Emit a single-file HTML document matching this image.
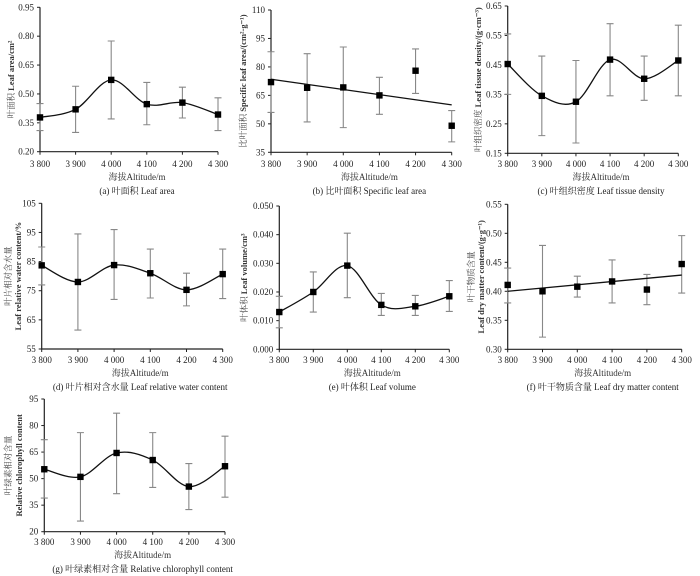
<!DOCTYPE html>
<html><head><meta charset="utf-8"><style>
html,body{margin:0;padding:0;background:#fff;}
svg{display:block;font-family:"Liberation Serif","Noto Serif CJK SC","Noto Sans CJK SC",serif;}
</style></head><body>
<svg id="fig" width="700" height="576" viewBox="0 0 700 576" xmlns="http://www.w3.org/2000/svg">
<rect width="700" height="576" fill="#fff"/>
</svg>
<script>
const categories = ["3 800","3 900","4 000","4 100","4 200","4 300"];

const aValues = [0.378,0.42,0.573,0.447,0.455,0.393];
const aHi = [0.45,0.54,0.775,0.56,0.535,0.48];
const aLo = [0.31,0.30,0.37,0.34,0.375,0.31];
const aTicks = ["0.20","0.35","0.50","0.65","0.80","0.95"];

const bValues = [72,69,69.2,65,78,49];
const bHi = [88,87,90.5,74.5,89.5,57];
const bLo = [56,51,48,55,66,40.5];
const bTrend = [73.5,60];
const bTicks = ["35","50","65","80","95","110"];

const cValues = [0.453,0.345,0.325,0.468,0.403,0.465];
const cHi = [0.555,0.48,0.465,0.59,0.48,0.585];
const cLo = [0.35,0.21,0.185,0.345,0.33,0.345];
const cTicks = ["0.15","0.25","0.35","0.45","0.55","0.65"];

const dValues = [83.7,78,83.8,81,75.3,80.7];
const dHi = [90,94.5,96,89.3,81,89.3];
const dLo = [77,61.5,72,72.5,69.8,72.3];
const dTicks = ["55","65","75","85","95","105"];

const eValues = [0.013,0.020,0.0292,0.0155,0.015,0.0185];
const eHi = [0.0185,0.027,0.0405,0.0195,0.0188,0.024];
const eLo = [0.0075,0.013,0.018,0.0118,0.0118,0.0132];
const eTicks = ["0.000","0.010","0.020","0.030","0.040","0.050"];

const fValues = [0.411,0.400,0.408,0.417,0.403,0.447];
const fHi = [0.44,0.479,0.426,0.454,0.429,0.496];
const fLo = [0.38,0.321,0.39,0.38,0.377,0.397];
const fTrend = [0.400,0.428];
const fTicks = ["0.30","0.35","0.40","0.45","0.50","0.55"];

const gValues = [55.3,51,64.5,60.5,45.5,57];
const gHi = [72,76,87,76,58.5,74];
const gLo = [39,26,41.5,45,32.5,39.5];
const gTicks = ["20","35","50","65","80","95"];

const NS="http://www.w3.org/2000/svg";
const svg=document.getElementById('fig');
function mk(tag,attrs,parent){const e=document.createElementNS(NS,tag);for(const k in attrs)e.setAttribute(k,attrs[k]);(parent||svg).appendChild(e);return e;}

function panel(o){
  const g=mk('g',{});
  
  
  const t0=parseFloat(o.ticks[0]), t1=parseFloat(o.ticks[o.ticks.length-1]);
  const y=v=>o.bottom-(v-t0)/(t1-t0)*(o.bottom-o.top);
  const x=i=>o.left+i*(o.right-o.left)/(categories.length-1);
  // axes
  const ax=mk('path',{d:`M${o.left},${o.top}V${o.bottom}H${o.right}`,stroke:'#222',fill:'none','stroke-width':1.2},g);
  
  
  o.ticks.forEach(t=>{
    const yy=y(parseFloat(t));
    mk('line',{x1:o.left-3,x2:o.left,y1:yy,y2:yy,stroke:'#222','stroke-width':1},g);
    const tl=mk('text',{x:o.left-6,y:yy+3,'font-size':9,'text-anchor':'end',fill:'#222'},g);
    tl.textContent=t;
    
    
  });
  categories.forEach((c,i)=>{
    mk('line',{x1:x(i),x2:x(i),y1:o.bottom,y2:o.bottom+3,stroke:'#222','stroke-width':1},g);
    const tl=mk('text',{x:x(i),y:o.tickY,'font-size':9,'text-anchor':'middle',fill:'#222'},g);
    tl.textContent=c;
    
    
  });
  // error bars
  o.values.forEach((v,i)=>{
    const eb=mk('path',{d:`M${x(i)},${y(o.hi[i])}V${y(o.lo[i])}M${x(i)-3.5},${y(o.hi[i])}h7M${x(i)-3.5},${y(o.lo[i])}h7`,stroke:'#888','stroke-width':1.1,fill:'none'},g);
    
    
  });
  // line
  let d;
  if(o.trend){
    d=`M${x(0)},${y(o.trend[0])}L${x(categories.length-1)},${y(o.trend[1])}`;
  } else {
    const p=o.values.map((v,i)=>[x(i),y(v)]);
    d=`M${p[0][0]},${p[0][1]}`;
    for(let i=0;i<p.length-1;i++){
      const p0=p[i-1]||p[i],p1=p[i],p2=p[i+1],p3=p[i+2]||p2;
      const c1=[p1[0]+(p2[0]-p0[0])/6,p1[1]+(p2[1]-p0[1])/6];
      const c2=[p2[0]-(p3[0]-p1[0])/6,p2[1]-(p3[1]-p1[1])/6];
      d+=`C${c1[0]},${c1[1]} ${c2[0]},${c2[1]} ${p2[0]},${p2[1]}`;
    }
  }
  const ln=mk('path',{d:d,stroke:'#111','stroke-width':1.3,fill:'none'},g);
  
  
  o.values.forEach((v,i)=>{
    const m=mk('rect',{x:x(i)-3.2,y:y(v)-3.2,width:6.4,height:6.4,fill:'#000'},g);
    
    
  });
  // y title
  o.ylab.forEach((l,k)=>{
    const tx=mk('text',{transform:`translate(${l.x},${(o.top+o.bottom)/2}) rotate(-90)`,'font-size':l.fs||8.5,'text-anchor':'middle',fill:l.c||'#444','font-weight':l.b?'bold':'normal'},g);
    tx.innerHTML=l.t;
    
    
  });
  const cx=(o.left+o.right)/2+8;
  const xt=mk('text',{x:cx,y:o.tickY+13,'font-size':9,'text-anchor':'middle',fill:'#333'},g);
  xt.textContent='海拔Altitude/m';
  
  
  const cp=mk('text',{x:cx,y:o.tickY+27,'font-size':9,'text-anchor':'middle',fill:'#222'},g);
  cp.textContent=o.caption;
  
  
}

panel({name:'panel-a-leaf-area',left:40,right:218,top:7.3,bottom:151.7,tickY:167,values:aValues,hi:aHi,lo:aLo,ticks:aTicks,
  ylab:[{x:14,t:'叶面积 <tspan font-weight="bold" fill="#333">Leaf area/cm²</tspan>'}],caption:'(a) 叶面积 Leaf area'});
panel({name:'panel-b-specific-leaf-area',left:271,right:451.7,top:10,bottom:152.3,tickY:167,values:bValues,hi:bHi,lo:bLo,trend:bTrend,ticks:bTicks,
  ylab:[{x:246,t:'比叶面积 <tspan font-weight="bold" fill="#333">Specific leaf area/(cm²·g⁻¹)</tspan>'}],caption:'(b) 比叶面积 Specific leaf area'});
panel({name:'panel-c-leaf-tissue-density',left:507.7,right:678.3,top:6,bottom:153.3,tickY:167,values:cValues,hi:cHi,lo:cLo,ticks:cTicks,
  ylab:[{x:481,t:'叶组织密度 <tspan font-weight="bold" fill="#333">Leaf tissue density/(g·cm⁻³)</tspan>'}],caption:'(c) 叶组织密度 Leaf tissue density'});
panel({name:'panel-d-relative-water',left:41.7,right:222.7,top:203.3,bottom:349,tickY:363,values:dValues,hi:dHi,lo:dLo,ticks:dTicks,
  ylab:[{x:11,t:'叶片相对含水量'},{x:21,t:'Leaf relative water content/%',b:true,c:'#333'}],caption:'(d) 叶片相对含水量 Leaf relative water content'});
panel({name:'panel-e-leaf-volume',left:279.3,right:449.3,top:206,bottom:349.3,tickY:363,values:eValues,hi:eHi,lo:eLo,ticks:eTicks,
  ylab:[{x:247,t:'叶体积 <tspan font-weight="bold" fill="#333">Leaf volume/cm³</tspan>'}],caption:'(e) 叶体积 Leaf volume'});
panel({name:'panel-f-dry-matter',left:507.7,right:681.7,top:204.3,bottom:349.3,tickY:363,values:fValues,hi:fHi,lo:fLo,trend:fTrend,ticks:fTicks,
  ylab:[{x:474,t:'叶干物质含量'},{x:484,t:'Leaf dry matter content/(g·g⁻¹)',b:true,c:'#333'}],caption:'(f) 叶干物质含量 Leaf dry matter content'});
panel({name:'panel-g-chlorophyll',left:44.3,right:225,top:399,bottom:531.7,tickY:545,values:gValues,hi:gHi,lo:gLo,ticks:gTicks,
  ylab:[{x:11,t:'叶绿素相对含量'},{x:22,t:'Relative chlorophyll content',b:true,c:'#333'}],caption:'(g) 叶绿素相对含量 Relative chlorophyll content'});
</script>
</body></html>
